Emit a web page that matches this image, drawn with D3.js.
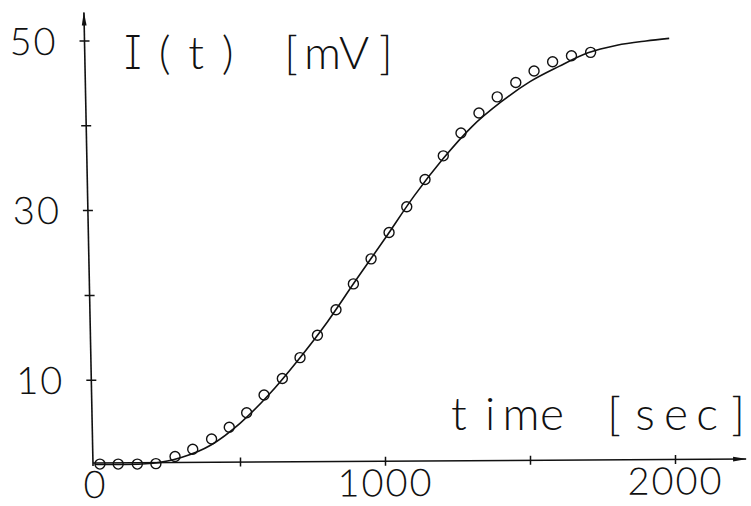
<!DOCTYPE html>
<html>
<head>
<meta charset="utf-8">
<script src="https://cdn.jsdelivr.net/npm/d3@7"></script>
<style>
  html, body { margin: 0; padding: 0; background: #fff; }
  svg { display: block; }
  text { font-family: Lato, "Open Sans", sans-serif; font-weight: 300; fill: #111; }
  .serif-i { font-family: Inter, Lato, sans-serif; font-weight: 200; font-feature-settings: "cv08" 1; }
</style>
</head>
<body>
<svg id="chart" width="751" height="506"></svg>
<script>
// Measured signal I(t) in mV (open circles)
const obsTime  = [17, 80, 146, 210, 276, 337, 402, 463, 523, 583, 646, 707, 767, 831,
                  891, 952, 1014, 1075, 1138, 1201, 1262, 1324, 1387, 1451, 1514, 1578, 1643, 1709];
const obsValue = [0.05, 0.05, 0.05, 0.1, 0.95, 1.8, 3.0, 4.4, 6.1, 8.2, 10.15, 12.6, 15.25, 18.25,
                  21.3, 24.25, 27.35, 30.4, 33.6, 36.4, 39.1, 41.45, 43.35, 45.05, 46.4, 47.5, 48.2, 48.6];

// Model curve
const fitTime  = [0, 100, 200, 300, 400, 500, 600, 700, 800, 900, 1000,
                  1100, 1200, 1300, 1400, 1500, 1600, 1700, 1800, 1900, 1980];
const fitValue = [0, 0, 0.15, 0.85, 2.3, 4.85, 8.25, 12.3, 16.75, 21.75, 26.65,
                  31.65, 36.05, 39.85, 42.75, 45.15, 46.95, 48.55, 49.45, 49.95, 50.25];

// Axis ticks and labels
const xTicks      = [0, 500, 1000, 1500, 2000];
const xTickLabels = [0, 1000, 2000];
const yTicks      = [10, 20, 30, 40, 50];
const yTickLabels = [10, 30, 50];
const xAxisEnd = 2245;   // arrow tip of the time axis (sec)
const yAxisEnd = 53.3;   // arrow tip of the signal axis (mV)

const ink = '#111';
const svg = d3.select('#chart');

const x = d3.scaleLinear().domain([0, 2000]).range([95, 675]);
const y = d3.scaleLinear().domain([0, 50]).range([464.5, 40.5]);

// arrowhead for both axes
svg.append('defs').append('marker')
  .attr('id', 'arrow')
  .attr('viewBox', '0 0 14 6')
  .attr('refX', 13).attr('refY', 3)
  .attr('markerWidth', 14).attr('markerHeight', 6)
  .attr('markerUnits', 'userSpaceOnUse')
  .attr('orient', 'auto')
  .append('path').attr('d', 'M0,0.6 L14,3 L0,5.4 Z').attr('fill', ink);

// ---- vertical axis (slightly leaning, as plotted) ----
const y0 = y(0);
const gy = svg.append('g')
  .attr('transform', `translate(93,${y0}) skewX(1.15) translate(0,${-y0})`);

gy.append('line')
  .attr('x1', 0).attr('x2', 0)
  .attr('y1', y(0) + 1.5).attr('y2', y(yAxisEnd))
  .attr('stroke', ink).attr('stroke-width', 1.6)
  .attr('marker-end', 'url(#arrow)');

const yAx = gy.append('g')
  .call(d3.axisLeft(y).tickValues(yTicks).tickSize(0)
    .tickFormat(d => yTickLabels.includes(d) ? d : ''));
yAx.attr('font-size', null).attr('font-family', null);
yAx.select('.domain').remove();
yAx.selectAll('.tick line')
  .attr('x1', -5).attr('x2', 5)
  .attr('stroke', ink).attr('stroke-width', 1.5);
yAx.selectAll('.tick text')
  .attr('x', -27).attr('dy', '0.36em')
  .style('font-size', '38px').style('letter-spacing', '2px')
  .attr('fill', ink);

// ---- horizontal axis ----
const gx = svg.append('g')
  .attr('transform', `translate(95,463) skewY(-0.35) translate(-95,0)`);

gx.append('line')
  .attr('x1', x(0) - 2).attr('x2', x(xAxisEnd))
  .attr('y1', 0).attr('y2', 0)
  .attr('stroke', ink).attr('stroke-width', 1.6)
  .attr('marker-end', 'url(#arrow)');

const xAx = gx.append('g')
  .call(d3.axisBottom(x).tickValues(xTicks).tickSize(0)
    .tickFormat(d => xTickLabels.includes(d) ? d : ''));
xAx.attr('font-size', null).attr('font-family', null);
xAx.select('.domain').remove();
xAx.selectAll('.tick line')
  .attr('y1', -4.5).attr('y2', 4.5)
  .attr('stroke', ink).attr('stroke-width', 1.5)
  .attr('display', d => d === 0 ? 'none' : null);
xAx.selectAll('.tick text')
  .attr('y', 35).attr('dy', 0)
  .style('font-size', '38px').style('letter-spacing', '2px')
  .attr('fill', ink);

// ---- model curve ----
const fit = fitTime.map((t, i) => [t, fitValue[i]]);
svg.append('path')
  .datum(fit)
  .attr('fill', 'none')
  .attr('stroke', ink)
  .attr('stroke-width', 1.6)
  .attr('d', d3.line().x(d => x(d[0])).y(d => y(d[1])).curve(d3.curveMonotoneX));

// ---- measured points ----
svg.append('g')
  .selectAll('circle')
  .data(obsTime.map((t, i) => [t, obsValue[i]]))
  .join('circle')
  .attr('cx', d => x(d[0]))
  .attr('cy', d => y(d[1]))
  .attr('r', 5)
  .attr('fill', 'none')
  .attr('stroke', ink)
  .attr('stroke-width', 1.4);

// ---- axis titles, set on a fixed character pitch ----
function spacedLabel(str, xStart, pitch, baseline, size) {
  const t = svg.append('text')
    .attr('text-anchor', 'middle')
    .style('font-size', size + 'px');
  Array.from(str).forEach((ch, i) => {
    t.append('tspan')
      .attr('x', xStart + i * pitch)
      .attr('y', baseline)
      .classed('serif-i', ch === 'I')
      .text(ch);
  });
  return t;
}
spacedLabel('I(t) [mV]', 133, 31.6, 68.5, 46);
spacedLabel('time [sec]', 459, 31, 430, 46);
</script>
</body>
</html>
